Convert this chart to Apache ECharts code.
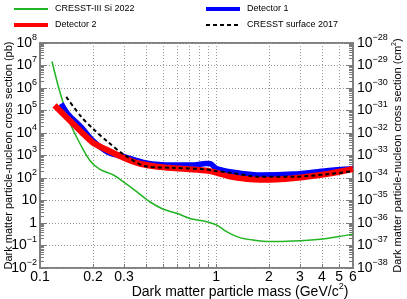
<!DOCTYPE html>
<html><head><meta charset="utf-8">
<script src="https://cdn.jsdelivr.net/npm/echarts@6/dist/echarts.min.js"></script>
<style>html,body{margin:0;padding:0;background:#fff}#c{width:407px;height:299px}</style>
</head><body><div id="c"></div>
<script>
// ---- data ----
const greenX = [0.117, 0.126, 0.133, 0.145, 0.17, 0.192, 0.219, 0.261, 0.297, 0.354, 0.42, 0.502, 0.598, 0.711, 0.885, 1.01, 1.15, 1.35, 1.62, 2.03, 2.74, 3.9, 5.0, 6.0];
const greenY = [1.5e7, 1.5e6, 3.5e5, 4e4, 3e3, 600, 240, 136, 69, 24.6, 8.8, 4.1, 2.7, 1.6, 1.14, 0.81, 0.41, 0.23, 0.175, 0.15, 0.158, 0.19, 0.25, 0.32];

const blueX = [0.132, 0.144, 0.172, 0.2, 0.243, 0.3, 0.4, 0.57, 0.75, 0.88, 0.93, 1.0, 1.15, 1.4, 1.78, 2.75, 4.26, 6.0];
const blueY = [2e5, 7e4, 1.8e4, 4.5e3, 1.4e3, 900, 470, 380, 380, 440, 430, 270, 200, 160, 136, 150, 210, 255];

const redX = [0.121, 0.144, 0.172, 0.2, 0.243, 0.3, 0.37, 0.48, 0.68, 0.9, 1.0, 1.2, 1.5, 1.78, 2.2, 2.75, 4.26, 6.0];
const redY = [1.7e5, 4.3e4, 1.1e4, 3.7e3, 1.7e3, 780, 430, 310, 250, 210, 175, 115, 90, 83, 85, 97, 150, 250];

const blackX = [0.141, 0.172, 0.2, 0.243, 0.3, 0.4, 0.57, 0.85, 1.0, 1.2, 1.78, 2.75, 4.26, 6.0];
const blackY = [4e5, 5.1e4, 1.55e4, 4e3, 1.1e3, 330, 284, 244, 205, 172, 114, 114, 146, 200];

const seriesNames = ['CRESST-III Si 2022', 'Detector 1', 'Detector 2', 'CRESST surface 2017'];

const xLabelValues = [0.1, 0.2, 0.3, 1, 2, 3, 4, 5, 6];
const xGridValues = [0.2, 0.3, 0.4, 0.5, 0.6, 0.7, 0.8, 0.9, 1, 2, 3, 4, 5];
const leftExponents = [-2, -1, 0, 1, 2, 3, 4, 5, 6, 7, 8];   // pb
const PB_TO_CM2_EXP = -36;                                    // 1 pb = 1e-36 cm^2 (right axis)

// ---- build ----
const decades = leftExponents.map(e => Math.pow(10, e));
const minorTicks = [];
leftExponents.slice(0, -1).forEach(e => { for (let m = 2; m <= 9; m++) minorTicks.push(m * Math.pow(10, e)); });

const zip = (xs, ys) => xs.map((x, i) => [x, ys[i]]);
const FONT = '"Liberation Sans", Arial, Helvetica, sans-serif';
const MINUS = '\u2212';
const rich = {
  b: {fontSize: 14, lineHeight: 20, color: '#000', fontFamily: FONT},
  s: {fontSize: 9, lineHeight: 10, verticalAlign: 'top', color: '#000', fontFamily: FONT}
};
function expText(e) {
  return '{b|10}{s|' + (e < 0 ? MINUS + (-e) : e) + '}';
}
function leftLabel(v) {
  const e = Math.round(Math.log10(v));
  if (e === 0) return '{b|1}';
  if (e === 1) return '{b|10}';
  return expText(e);
}
function rightLabel(v) {
  return expText(Math.round(Math.log10(v)) + PB_TO_CM2_EXP);
}
const gridLine = {show: true, lineStyle: {color: '#9a9a9a', type: [1, 2], width: 1}};
const tickStyle = {color: '#7a7a7a', width: 1};
const legendCommon = {
  top: 4, orient: 'vertical', itemWidth: 34, itemHeight: 10, itemGap: 6, padding: 0,
  itemStyle: {opacity: 0},
  textStyle: {fontSize: 9, lineHeight: 10, color: '#000', fontFamily: FONT, padding: [0, 0, 0, 2]}
};

const chart = echarts.init(document.getElementById('c'), null, {renderer: 'canvas'});
chart.setOption({
  animation: false,
  textStyle: {fontFamily: FONT, color: '#000'},
  grid: {left: 40, right: 54, top: 43, bottom: 31, show: true, borderColor: '#808080', borderWidth: 2,
         backgroundColor: 'transparent', containLabel: false, outerBoundsMode: 'none'},
  legend: [
    Object.assign({left: 12, data: [{name: seriesNames[0]}, {name: seriesNames[2], lineStyle: {width: 4}}]}, legendCommon),
    Object.assign({left: 204, data: [{name: seriesNames[1], lineStyle: {width: 4}}, {name: seriesNames[3]}]}, legendCommon)
  ],
  xAxis: [{
    type: 'log', logBase: 10, min: 0.1, max: 6,
    axisLine: {show: false},
    axisTick: {show: true, inside: true, length: 4, customValues: xGridValues, lineStyle: tickStyle},
    axisLabel: {customValues: xLabelValues, fontSize: 14, margin: 2, color: '#000',
      formatter: v => String(+(+v).toPrecision(3))},
    splitLine: gridLine,
    minorTick: {show: false}, minorSplitLine: {show: false},
    name: '{b|Dark matter particle mass (GeV/c}{s|2}{b|)}',
    nameLocation: 'middle', nameGap: 14, nameMoveOverlap: false,
    nameTextStyle: {padding: [0, 0, 0, 87], rich: rich}
  }],
  yAxis: [{
    type: 'log', logBase: 10, min: 1e-2, max: 1e8, position: 'left',
    axisLine: {show: false},
    axisTick: {show: true, inside: true, length: 7, customValues: decades, lineStyle: tickStyle},
    axisLabel: {customValues: decades, margin: 3, formatter: leftLabel, rich: rich},
    splitLine: gridLine,
    minorTick: {show: false}, minorSplitLine: {show: false},
    name: 'Dark matter particle-nucleon cross section (pb)',
    nameLocation: 'middle', nameGap: 26, nameRotate: 90, nameMoveOverlap: false,
    nameTextStyle: {fontSize: 11, color: '#000'}
  }, {
    type: 'log', logBase: 10, min: 1e-2, max: 1e8, position: 'right',
    axisLine: {show: false},
    axisTick: {show: true, inside: true, length: 7, customValues: decades, lineStyle: tickStyle},
    axisLabel: {customValues: decades, margin: 4, formatter: rightLabel, rich: rich},
    splitLine: {show: false},
    minorTick: {show: false},
    name: '{n|Dark matter particle-nucleon cross section (cm}{m|2}{n|)}',
    nameLocation: 'middle', nameGap: 38, nameRotate: 90, nameMoveOverlap: false,
    nameTextStyle: {rich: {n: {fontSize: 11, lineHeight: 14, color: '#000'}, m: {fontSize: 7, lineHeight: 8, verticalAlign: 'top', color: '#000'}}}
  }, {
    type: 'log', logBase: 10, min: 1e-2, max: 1e8, position: 'left',
    axisLine: {show: false},
    axisTick: {show: true, inside: true, length: 4, customValues: minorTicks, lineStyle: tickStyle},
    axisLabel: {show: false}, splitLine: {show: false}, minorTick: {show: false}
  }, {
    type: 'log', logBase: 10, min: 1e-2, max: 1e8, position: 'right',
    axisLine: {show: false},
    axisTick: {show: true, inside: true, length: 4, customValues: minorTicks, lineStyle: tickStyle},
    axisLabel: {show: false}, splitLine: {show: false}, minorTick: {show: false}
  }],
  series: [
    {name: seriesNames[0], type: 'line', data: zip(greenX, greenY), showSymbol: false, symbol: 'none', smooth: 0.3,
     lineStyle: {color: '#22b422', width: 1.5}, itemStyle: {color: '#22b422'}, z: 2},
    {name: seriesNames[1], type: 'line', data: zip(blueX, blueY), showSymbol: false, symbol: 'none', smooth: 0.3,
     lineStyle: {color: '#0000ff', width: 5.5}, itemStyle: {color: '#0000ff'}, z: 3},
    {name: seriesNames[2], type: 'line', data: zip(redX, redY), showSymbol: false, symbol: 'none', smooth: 0.3,
     lineStyle: {color: '#ff0000', width: 6}, itemStyle: {color: '#ff0000'}, z: 4},
    {name: seriesNames[3], type: 'line', data: zip(blackX, blackY), showSymbol: false, symbol: 'none', smooth: 0.3,
     lineStyle: {color: '#000000', width: 2, type: [4, 3]}, itemStyle: {color: '#000000'}, z: 5}
  ]
});
</script></body></html>
